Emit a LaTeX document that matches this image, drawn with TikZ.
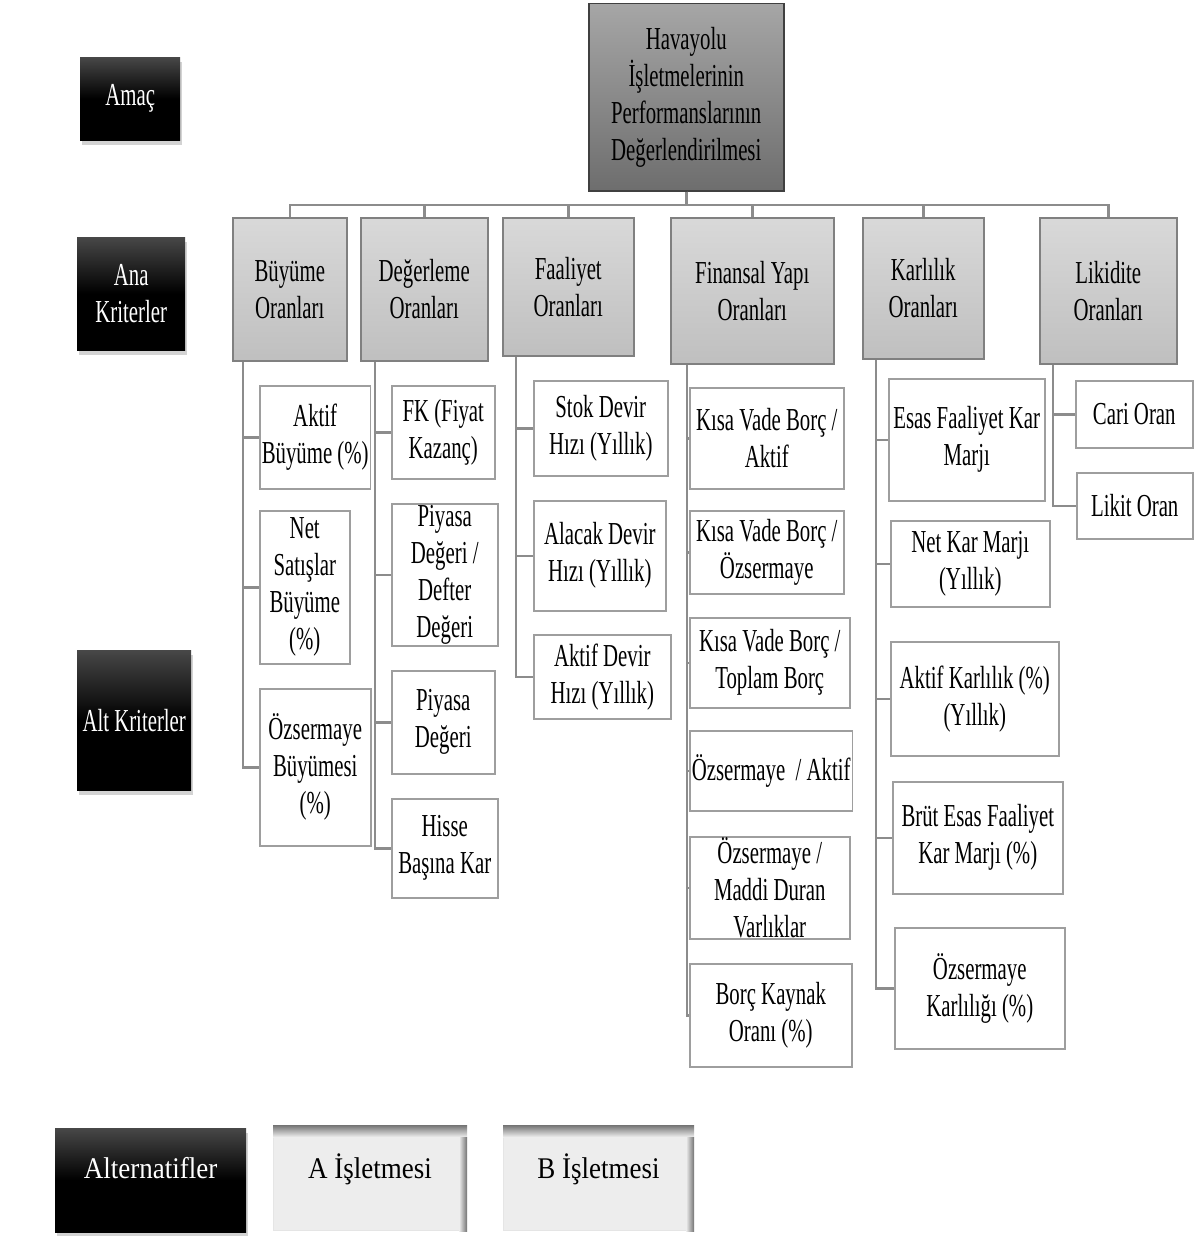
\documentclass[tikz,border=0pt]{standalone}
\usepackage{fontspec}
\setmainfont[FakeStretch=0.65]{Liberation Serif}
\newfontfamily\widefont[FakeStretch=0.9]{Liberation Serif}
\usepackage{xcolor}
\usepackage{tikz}
\usetikzlibrary{shadows}

\begin{document}
\begin{tikzpicture}[x=1pt,y=-1pt,
    box/.style={rectangle, anchor=north west, align=center, inner sep=2pt,
        font=\fontsize{32}{37}\selectfont},
    goalbox/.style={box, draw=black!75, line width=1.5pt, top color=black!35, bottom color=black!57},
    mainbox/.style={box, draw=black!50, line width=1.5pt, top color=black!15, bottom color=black!25},
    subbox/.style={box, draw=black!38, line width=1.5pt, fill=white},
    levelbox/.style={box, text=white, top color=black!72, bottom color=black, middle color=black,
        drop shadow={shadow xshift=2pt, shadow yshift=-5pt, opacity=0.35}},
    firmbox/.style={box, fill=black!7, draw=black!10, line width=1pt,
        font=\widefont\fontsize{30}{34}\selectfont, text height=45pt, text depth=45pt, inner ysep=7.5pt},
    conn/.style={draw=black!45, line width=2.5pt}]
                \useasboundingbox (0,0) rectangle (1202,1236);

                % Levels
                \node[levelbox, minimum width=100, minimum height=83] (amac) at (80,57) {Amaç};
                \node[levelbox, minimum width=108, minimum height=113] (ana) at (77,237) {Ana\\Kriterler};
                \node[levelbox, minimum width=114, minimum height=140] (alt) at (77,650) {Alt Kriterler};
                \node[levelbox, minimum width=191, minimum height=104, text depth=24pt,
                    font=\widefont\fontsize{30}{34}\selectfont] (alter) at (55,1128) {Alternatifler};

                % Goal
                \node[goalbox, minimum width=195, minimum height=187] (goal) at (588,3) {Havayolu\\İşletmelerinin\\Performanslarının\\Değerlendirilmesi};

                % Main criteria
                \node[mainbox, minimum width=114, minimum height=143] (buy) at (232,217) {Büyüme\\Oranları};
                \node[mainbox, minimum width=127, minimum height=143] (deg) at (360,217) {Değerleme\\Oranları};
                \node[mainbox, minimum width=131, minimum height=138] (faa) at (502,217) {Faaliyet\\Oranları};
                \node[mainbox, minimum width=163, minimum height=146] (fin) at (670,217) {Finansal Yapı\\Oranları};
                \node[mainbox, minimum width=121, minimum height=141] (kar) at (862,217) {Karlılık\\Oranları};
                \node[mainbox, minimum width=137, minimum height=146] (lik) at (1039,217) {Likidite\\Oranları};

                % Sub criteria
                \node[subbox, minimum width=108, minimum height=103] (buy1) at (259,385) {Aktif\\Büyüme (\%)};
                \node[subbox, minimum width=90, minimum height=153] (buy2) at (259,510) {Net\\Satışlar\\Büyüme\\(\%)};
                \node[subbox, minimum width=111, minimum height=157] (buy3) at (259,688) {Özsermaye\\Büyümesi\\(\%)};

                \node[subbox, minimum width=103, minimum height=93] (deg1) at (391,385) {FK (Fiyat\\Kazanç)};
                \node[subbox, minimum width=106, minimum height=142, inner sep=0pt] (deg2) at (391,503) {Piyasa\\Değeri /\\Defter\\Değeri};
                \node[subbox, minimum width=103, minimum height=103] (deg3) at (391,670) {Piyasa\\Değeri};
                \node[subbox, minimum width=106, minimum height=99] (deg4) at (391,798) {Hisse\\Başına Kar};

                \node[subbox, minimum width=134, minimum height=95] (faa1) at (533,380) {Stok Devir\\Hızı (Yıllık)};
                \node[subbox, minimum width=132, minimum height=110] (faa2) at (533,500) {Alacak Devir\\Hızı (Yıllık)};
                \node[subbox, minimum width=137, minimum height=84] (faa3) at (533,634) {Aktif Devir\\Hızı (Yıllık)};

                \node[subbox, minimum width=154, minimum height=101] (fin1) at (689,387) {Kısa Vade Borç /\\Aktif};
                \node[subbox, minimum width=154, minimum height=83] (fin2) at (689,510) {Kısa Vade Borç /\\Özsermaye};
                \node[subbox, minimum width=160, minimum height=90] (fin3) at (689,617) {Kısa Vade Borç /\\Toplam Borç};
                \node[subbox, minimum width=161, minimum height=80] (fin4) at (689,730) {Özsermaye \ / Aktif};
                \node[subbox, minimum width=160, minimum height=102, inner sep=0pt] (fin5) at (689,836) {Özsermaye /\\Maddi Duran\\Varlıklar};
                \node[subbox, minimum width=162, minimum height=103] (fin6) at (689,963) {Borç Kaynak\\Oranı (\%)};

                \node[subbox, minimum width=156, minimum height=122] (kar1) at (888,378) {Esas Faaliyet Kar\\Marjı};
                \node[subbox, minimum width=159, minimum height=86] (kar2) at (890,520) {Net Kar Marjı\\(Yıllık)};
                \node[subbox, minimum width=168, minimum height=114] (kar3) at (890,641) {Aktif Karlılık (\%)\\(Yıllık)};
                \node[subbox, minimum width=170, minimum height=112] (kar4) at (892,781) {Brüt Esas Faaliyet\\Kar Marjı (\%)};
                \node[subbox, minimum width=170, minimum height=121] (kar5) at (894,927) {Özsermaye\\Karlılığı (\%)};

                \node[subbox, minimum width=117, minimum height=67] (lik1) at (1075,380) {Cari Oran};
                \node[subbox, minimum width=116, minimum height=66] (lik2) at (1076,472) {Likit Oran};

                % Alternatives
                \node[firmbox, minimum width=193] (firmA) at (273,1125) {A İşletmesi};
                \node[firmbox, minimum width=190] (firmB) at (503,1125) {B İşletmesi};
                \foreach \f in {firmA,firmB} {
                    \shade[top color=black!55, bottom color=black!7] (\f.north west) rectangle ([yshift=-12pt]\f.north east);
                    \shade[left color=black!7, right color=black!55] ([xshift=-8pt,yshift=-12pt]\f.north east) rectangle (\f.south east);
                }

                % Goal to main criteria
                \coordinate (bus) at (0,205);
                \foreach \m in {buy,deg,faa,fin,kar,lik}
                    \draw[conn] (goal.south) -- (goal.south |- bus) -| (\m.north);

                % Main criteria to sub criteria
                \foreach \s in {buy1,buy2,buy3}
                    \draw[conn] ([xshift=11pt]buy.south west) |- (\s.west);
                \foreach \s in {deg1,deg2,deg3,deg4}
                    \draw[conn] ([xshift=15pt]deg.south west) |- (\s.west);
                \foreach \s in {faa1,faa2,faa3}
                    \draw[conn] ([xshift=14pt]faa.south west) |- (\s.west);
                \foreach \s in {fin1,fin2,fin3,fin4,fin5,fin6}
                    \draw[conn] ([xshift=17pt]fin.south west) |- (\s.west);
                \foreach \s in {kar1,kar2,kar3,kar4,kar5}
                    \draw[conn] ([xshift=14pt]kar.south west) |- (\s.west);
                \foreach \s in {lik1,lik2}
                    \draw[conn] ([xshift=14pt]lik.south west) |- (\s.west);
\end{tikzpicture}
\end{document}
